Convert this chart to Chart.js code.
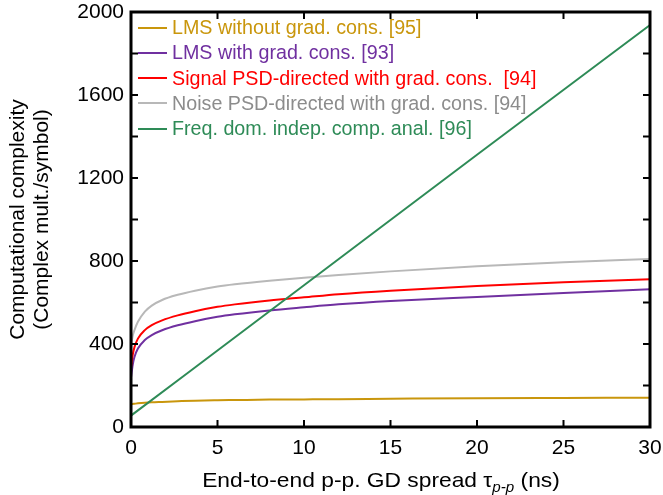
<!DOCTYPE html>
<html>
<head>
<meta charset="utf-8">
<title>Computational complexity vs GD spread</title>
<script src="https://cdn.jsdelivr.net/npm/chart.js@4.4.1/dist/chart.umd.min.js"></script>
<style>
  html, body { margin: 0; padding: 0; background: #ffffff; }
  #wrap { width: 663px; height: 495px; }
</style>
</head>
<body>
<div id="wrap"><canvas id="cc" width="663" height="495"></canvas></div>
<script>
// End-to-end p-p GD spread (ns) sampled for the adaptive-filter curves
const tauNs = [0, 0.1, 0.2, 0.4, 0.8, 1.2, 1.8, 2.7, 3.7, 5, 6, 8, 10, 12, 15, 20, 25, 30];

// Complexity (complex multiplications per symbol)
const lmsNoGrad   = [110, 111, 112, 114, 117, 119, 121, 124, 127, 129, 130, 132, 133, 134, 136, 139, 140, 141];
const lmsGrad     = [238, 300, 337, 378, 419, 443, 466, 490, 510, 531, 543, 562, 577, 591, 607, 627, 646, 664];
const signalPsd   = [286, 348, 385, 426, 467, 491, 514, 538, 558, 579, 591, 610, 625, 640, 657, 679, 697, 712];
const noisePsd    = [392, 440, 467, 507, 556, 585, 612, 637, 657, 677, 688, 705, 719, 732, 750, 775, 794, 810];

// Frequency-domain ICA grows linearly with the spread
const fdicaTau    = [0, 10, 20, 30];
const fdicaCost   = [55, 683, 1312, 1937];

const seriesLabels = [
  'LMS without grad. cons. [95]',
  'LMS with grad. cons. [93]',
  'Signal PSD-directed with grad. cons.  [94]',
  'Noise PSD-directed with grad. cons. [94]',
  'Freq. dom. indep. comp. anal. [96]'
];
const lineColors = ['#C9960C', '#7030A0', '#FF0000', '#B8B8B8', '#2E8B57'];
const textColors = ['#C9960C', '#7030A0', '#FF0000', '#8C8C8C', '#2E8B57'];

const xTicks = [0, 5, 10, 15, 20, 25, 30];
const yTicks = [0, 200, 400, 600, 800, 1000, 1200, 1400, 1600, 1800, 2000];

const FONT = '"Liberation Sans", Arial, Helvetica, sans-serif';
const FRAME_COLOR = '#000000';

function pairs(xs, ys) { return xs.map((x, i) => ({ x: x, y: ys[i] })); }

const seriesData = [
  pairs(tauNs, lmsNoGrad),
  pairs(tauNs, lmsGrad),
  pairs(tauNs, signalPsd),
  pairs(tauNs, noisePsd),
  pairs(fdicaTau, fdicaCost)
];

const decorations = {
  id: 'decorations',
  // box frame with inward ticks on all four sides
  afterDatasetsDraw(chart) {
    const ctx = chart.ctx;
    const xs = chart.scales.x, ys = chart.scales.y;
    const L = xs.getPixelForValue(0), R = xs.getPixelForValue(30);
    const B = ys.getPixelForValue(0), T = ys.getPixelForValue(2000);
    const tl = 7;
    ctx.save();
    ctx.strokeStyle = FRAME_COLOR;
    ctx.lineWidth = 3;
    ctx.lineJoin = 'miter';
    ctx.beginPath();
    ctx.moveTo(L, T); ctx.lineTo(R, T); ctx.lineTo(R, B); ctx.lineTo(L, B); ctx.closePath();
    ctx.stroke();
    ctx.lineWidth = 2;
    ctx.beginPath();
    xTicks.forEach(v => {
      const px = xs.getPixelForValue(v);
      ctx.moveTo(px, B); ctx.lineTo(px, B - tl);
      ctx.moveTo(px, T); ctx.lineTo(px, T + tl);
    });
    yTicks.forEach(v => {
      const py = ys.getPixelForValue(v);
      ctx.moveTo(L, py); ctx.lineTo(L + tl, py);
      ctx.moveTo(R, py); ctx.lineTo(R - tl, py);
    });
    ctx.stroke();
    ctx.restore();
  },
  // legend and axis titles
  afterDraw(chart) {
    const ctx = chart.ctx;
    const a = chart.chartArea;
    ctx.save();

    ctx.font = '19.7px ' + FONT;
    ctx.textBaseline = 'middle';
    ctx.textAlign = 'left';
    seriesLabels.forEach((lbl, i) => {
      const y = 27.5 + i * 25.3;
      ctx.fillStyle = lineColors[i];
      ctx.fillRect(138, Math.round(y) - 1, 29, 2);
      ctx.fillStyle = textColors[i];
      ctx.fillText(lbl, 172, y + 1);
    });

    ctx.fillStyle = '#000';
    ctx.font = '21px ' + FONT;
    ctx.textAlign = 'center';
    ctx.textBaseline = 'middle';
    ctx.save();
    ctx.translate(18, (a.top + a.bottom) / 2);
    ctx.rotate(-Math.PI / 2);
    ctx.fillText('Computational complexity', 0, 0);
    ctx.fillText('(Complex mult./symbol)', 0, 24);
    ctx.restore();

    const main = 'End-to-end p-p. GD spread \u03C4';
    const sub = 'p-p';
    const tail = ' (ns)';
    const sx = 1.085;
    ctx.textAlign = 'left';
    ctx.textBaseline = 'alphabetic';
    ctx.font = '21px ' + FONT;
    const wMain = ctx.measureText(main).width;
    const wTail = ctx.measureText(tail).width;
    ctx.font = 'italic 14px ' + FONT;
    const wSub = ctx.measureText(sub).width;
    const total = (wMain + wSub + wTail) * sx;
    const x0 = 381 - total / 2;
    const base = 486.5;
    ctx.save();
    ctx.translate(x0, base);
    ctx.scale(sx, 1);
    ctx.font = '21px ' + FONT;
    ctx.fillText(main, 0, 0);
    ctx.font = 'italic 14px ' + FONT;
    ctx.fillText(sub, wMain, 5);
    ctx.font = '21px ' + FONT;
    ctx.fillText(tail, wMain + wSub, 0);
    ctx.restore();
    ctx.restore();
  }
};

new Chart(document.getElementById('cc'), {
  type: 'line',
  data: {
    datasets: seriesData.map((d, i) => ({
      label: seriesLabels[i],
      data: d,
      borderColor: lineColors[i],
      backgroundColor: lineColors[i],
      borderWidth: 2,
      pointRadius: 0,
      fill: false,
      cubicInterpolationMode: 'monotone',
      order: 5 - i
    }))
  },
  options: {
    responsive: false,
    animation: false,
    devicePixelRatio: 1,
    layout: { padding: { top: 12, right: 13, left: 0, bottom: 0 } },
    plugins: { legend: { display: false }, tooltip: { enabled: false } },
    scales: {
      x: {
        type: 'linear', min: 0, max: 30,
        afterBuildTicks: s => { s.ticks = xTicks.map(v => ({ value: v })); },
        ticks: { font: { family: FONT, size: 21 }, color: '#000', padding: 9, maxRotation: 0 },
        grid: { display: false, drawTicks: false },
        border: { display: false },
        afterFit: s => { s.height = 68; s.paddingLeft = 0; s.paddingRight = 0; }
      },
      y: {
        type: 'linear', min: 0, max: 2000,
        afterBuildTicks: s => { s.ticks = yTicks.map(v => ({ value: v })); },
        ticks: {
          font: { family: FONT, size: 21 }, color: '#000', padding: 7,
          callback: v => (v % 400 === 0 ? String(v) : '')
        },
        grid: { display: false, drawTicks: false },
        border: { display: false },
        afterFit: s => { s.width = 131; s.paddingTop = 0; s.paddingBottom = 0; }
      }
    }
  },
  plugins: [decorations]
});
</script>
</body>
</html>
